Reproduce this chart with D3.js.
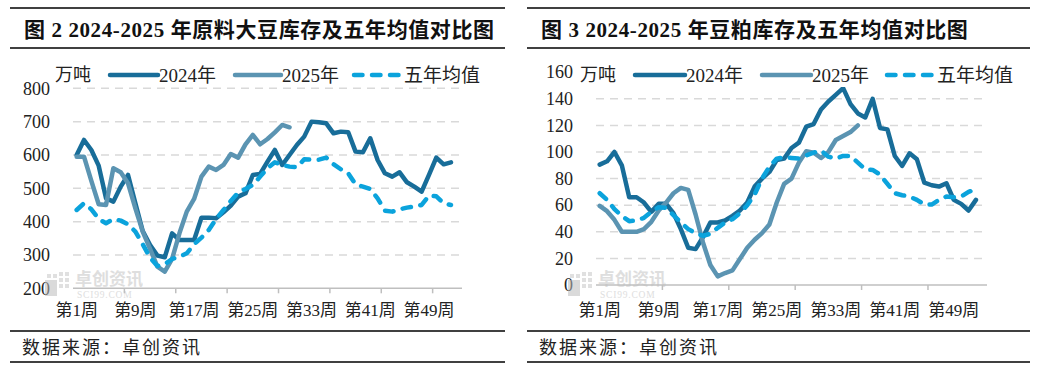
<!DOCTYPE html>
<html>
<head>
<meta charset="utf-8">
<script src="https://cdn.jsdelivr.net/npm/d3@7"></script>
<style>
  body { margin: 0; background: #fff; }
  text { font-family: "Liberation Serif", "Noto Sans CJK SC", serif; }
</style>
</head>
<body>
<script>
const width = 1041;
const height = 375;

// categories: week labels 第1周 … 第53周
const weeks = d3.range(1, 54).map((i) => `第${i}周`);
const labelWeeks = ["第1周", "第9周", "第17周", "第25周", "第33周", "第41周", "第49周"];

// 图2 原料大豆库存 (万吨)
const soy2024 = [600, 645, 615, 568, 470, 460, 505, 540, 455, 372, 330, 298, 293, 365, 345, 345, 345, 412, 412, 410,
  428, 448, 475, 485, 540, 543, 580, 615, 570, 600, 630, 655, 700, 698, 695, 665, 670, 668, 610, 608,
  650, 585, 545, 535, 548, 518, 505, 490, 540, 592, 572, 578];
const soy2025 = [595, 595, 522, 452, 450, 560, 548, 515, 440, 370, 318, 265, 250, 288, 365, 430, 468, 535, 565, 555,
  570, 603, 592, 632, 660, 632, 648, 668, 690, 683];
const soyAvg = [435, 455, 437, 408, 395, 408, 403, 392, 370, 332, 292, 267, 272, 288, 295, 305, 332, 352, 375, 408,
  435, 462, 487, 498, 510, 535, 560, 578, 570, 565, 563, 587, 586, 586, 592, 572, 557, 545, 512, 505,
  498, 470, 433, 430, 437, 442, 445, 450, 478, 476, 455, 450];
const soyTicks = [200, 300, 400, 500, 600, 700, 800];

// 图3 豆粕库存 (万吨)
const meal2024 = [90.5, 93, 100, 90, 66, 66, 62, 55, 61, 61, 54, 42, 28, 27, 36, 47, 47, 48.5, 52, 56,
  62, 74, 80, 85, 94, 95, 103, 107, 119, 121, 132, 138, 143, 148, 136, 129, 126, 140, 118, 117,
  97, 89.5, 99, 94.5, 77, 75, 74, 76.5, 64, 61, 56, 64];
const meal2025 = [59.5, 55.5, 49, 40, 40, 40, 42, 47.5, 56, 62, 69, 73, 71.5, 53, 32, 15, 6.5, 9, 11, 19.5,
  28, 34, 39, 45.5, 62, 76, 80, 92, 100.5, 99.5, 95.5, 100, 109, 112, 115, 120];
const mealAvg = [69, 64, 57, 52, 48, 48.5, 50.5, 55, 58.5, 58, 52.5, 47, 42, 39, 37, 38.5, 43, 47, 49.5, 54,
  60, 68, 80, 89, 95, 96, 95.5, 95, 97.5, 99.5, 101, 96.5, 95, 97, 97, 92, 87, 86.5, 83, 76,
  69, 67.5, 66.5, 64, 60.5, 60.5, 64, 66.5, 66, 66.5, 70, 72];
const mealTicks = [0, 20, 40, 60, 80, 100, 120, 140, 160];

const seriesNames = ["2024年", "2025年", "五年均值"];
const colors = ["#186d99", "#5b94b2", "#0ba3dc"];

let svg = d3
  .select("body")
  .append("svg")
  .attr("width", width)
  .attr("height", height);

svg.append("rect").attr("width", width).attr("height", height).attr("fill", "#fff");

function drawPanel(cfg) {
  let g = svg.append("g");

  // title block
  g.append("line").attr("x1", cfg.left).attr("x2", cfg.right).attr("y1", 8).attr("y2", 8)
    .attr("stroke", "#000").attr("stroke-width", 1.5);
  g.append("line").attr("x1", cfg.left).attr("x2", cfg.right).attr("y1", 48).attr("y2", 48)
    .attr("stroke", "#000").attr("stroke-width", 1.5);
  g.append("text")
    .attr("x", cfg.titleX)
    .attr("y", 37)
    .attr("font-size", 21)
    .attr("font-weight", "bold")
    .attr("letter-spacing", 0.6)
    .attr("fill", "#111")
    .text(cfg.title);

  // source block
  g.append("line").attr("x1", cfg.left).attr("x2", cfg.right).attr("y1", 331).attr("y2", 331)
    .attr("stroke", "#000").attr("stroke-width", 1.5);
  g.append("line").attr("x1", cfg.left).attr("x2", cfg.right).attr("y1", 362).attr("y2", 362)
    .attr("stroke", "#000").attr("stroke-width", 1.5);
  g.append("text")
    .attr("x", cfg.titleX - 2)
    .attr("y", 354)
    .attr("font-size", 18)
    .attr("fill", "#222")
    .attr("letter-spacing", 2)
    .text("数据来源：卓创资讯");

  let xScale = d3.scaleBand().domain(weeks).range([cfg.x0, cfg.x1]);
  let yScale = d3.scaleLinear().domain(cfg.domain).range([cfg.yBottom, cfg.yTop]);
  let cx = (i) => xScale(weeks[i]) + xScale.bandwidth() / 2;

  // gridlines
  g.append("g")
    .selectAll("line")
    .data(cfg.ticks.slice(1))
    .join("line")
    .attr("x1", cfg.x0)
    .attr("x2", cfg.x1)
    .attr("y1", (d) => yScale(d))
    .attr("y2", (d) => yScale(d))
    .attr("stroke", "#d9d9d9")
    .attr("stroke-width", 1.5)
    .attr("stroke-dasharray", "8,6");

  // y labels
  let leftAxis = d3.axisLeft(yScale).tickValues(cfg.ticks).tickSize(0).tickPadding(0);
  let yAxis = g.append("g")
    .attr("transform", `translate(${cfg.x0 - 23}, 0)`)
    .call(leftAxis);
  yAxis.select(".domain").remove();
  yAxis.selectAll("text")
    .attr("font-size", 18)
    .attr("fill", "#222")
    .style("font-family", '"Liberation Serif", serif');

  // watermark
  let wm = g.append("g").attr("transform", `translate(${cfg.x0 - 28}, 272)`).attr("opacity", 0.55);
  wm.append("rect").attr("x", 0).attr("y", 8).attr("width", 12).attr("height", 16).attr("fill", "#bdbdbd");
  [[14, 0], [20, 0], [14, 6], [20, 6], [14, 12], [20, 12], [2, 2], [8, 2]].forEach((p) => {
    wm.append("rect").attr("x", p[0]).attr("y", p[1]).attr("width", 4).attr("height", 4).attr("fill", "#c8c8c8");
  });
  wm.append("text").attr("x", 30).attr("y", 13).attr("font-size", 17).attr("font-weight", "bold")
    .attr("fill", "#c4c4c4").text("卓创资讯");
  wm.append("text").attr("x", 32).attr("y", 26).attr("font-size", 9.5)
    .attr("fill", "#c4c4c4").attr("letter-spacing", 0.8).text("SCI99.COM");

  // x axis
  g.append("line")
    .attr("x1", cfg.x0).attr("x2", cfg.x1)
    .attr("y1", cfg.yBottom).attr("y2", cfg.yBottom)
    .attr("stroke", "#bfbfbf").attr("stroke-width", 1.5);
  g.append("g")
    .selectAll("line")
    .data(weeks.filter((d, i) => i > 0 && i % cfg.tickEvery === 0))
    .join("line")
    .attr("x1", (d) => xScale(d))
    .attr("x2", (d) => xScale(d))
    .attr("y1", cfg.yBottom)
    .attr("y2", cfg.yBottom + 5)
    .attr("stroke", "#bfbfbf")
    .attr("stroke-width", 1.5);
  g.append("g")
    .selectAll("text")
    .data(labelWeeks)
    .join("text")
    .attr("x", (d) => xScale(d) + xScale.bandwidth() / 2)
    .attr("y", 316)
    .attr("text-anchor", "middle")
    .attr("font-size", 17)
    .attr("fill", "#222")
    .text((d) => d);

  // lines
  let line = d3.line().x((d, i) => cx(i)).y((d) => yScale(d));
  [cfg.s2024, cfg.s2025, cfg.avg].forEach((data, k) => {
    g.append("path")
      .datum(data)
      .attr("d", line)
      .attr("fill", "none")
      .attr("stroke", colors[k])
      .attr("stroke-width", 4.5)
      .attr("stroke-linejoin", "round")
      .attr("stroke-linecap", "round")
      .attr("stroke-dasharray", k === 2 ? "8.5,9.5" : null);
  });

  // legend
  let lg = g.append("g");
  if (cfg.legendBg) {
    lg.append("rect").attr("x", cfg.unitX - 4).attr("y", 63).attr("width", cfg.legend[2][1] + 82 - cfg.unitX)
      .attr("height", 24).attr("fill", "#fff");
  }
  lg.append("text").attr("x", cfg.unitX).attr("y", 81).attr("font-size", 18).attr("fill", "#222").text("万吨");
  cfg.legend.forEach((pos, k) => {
    lg.append("line")
      .attr("x1", pos[0]).attr("x2", pos[1])
      .attr("y1", 75).attr("y2", 75)
      .attr("stroke", colors[k])
      .attr("stroke-width", 4.5)
      .attr("stroke-linecap", "round")
      .attr("stroke-dasharray", k === 2 ? "8.5,9.5" : null);
    lg.append("text")
      .attr("x", pos[1] + 1)
      .attr("y", 82)
      .attr("font-size", 19)
      .attr("fill", "#222")
      .text(seriesNames[k]);
  });
}

drawPanel({
  left: 10, right: 505, titleX: 24,
  title: "图 2  2024-2025 年原料大豆库存及五年均值对比图",
  x0: 73, x1: 462, yTop: 88.3, yBottom: 288.3,
  domain: [200, 800], ticks: soyTicks, tickEvery: 7,
  s2024: soy2024, s2025: soy2025, avg: soyAvg,
  unitX: 55, legend: [[110, 158], [235, 281], [354, 403]], legendBg: false
});

drawPanel({
  left: 527, right: 1030, titleX: 541,
  title: "图 3  2024-2025 年豆粕库存及五年均值对比图",
  x0: 596, x1: 987, yTop: 72.2, yBottom: 285,
  domain: [0, 160], ticks: mealTicks, tickEvery: 9,
  s2024: meal2024, s2025: meal2025, avg: mealAvg,
  unitX: 580, legend: [[635, 685], [762, 811], [887, 936]], legendBg: true
});
</script>
</body>
</html>
